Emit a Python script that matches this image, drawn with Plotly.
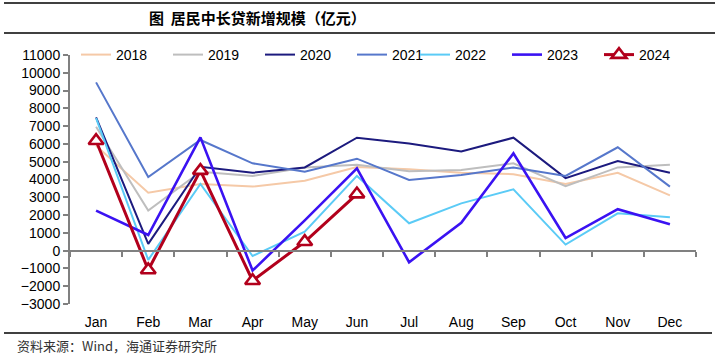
import plotly.graph_objects as go

months = ["Jan", "Feb", "Mar", "Apr", "May", "Jun", "Jul", "Aug", "Sep", "Oct", "Nov", "Dec"]

v2018 = [5900, 3260, 3750, 3600, 3930, 4700, 4570, 4380, 4300, 3750, 4380, 3110]
v2019 = [6970, 2250, 4440, 4200, 4680, 4830, 4460, 4530, 4910, 3630, 4680, 4830]
v2020 = [7490, 380, 4720, 4380, 4680, 6350, 6030, 5580, 6350, 4080, 5040, 4380]
v2021 = [9460, 4140, 6220, 4910, 4440, 5170, 3970, 4250, 4680, 4200, 5810, 3600]
v2022 = [7450, -520, 3750, -300, 1070, 4200, 1540, 2660, 3450, 340, 2100, 1880]
v2023 = [2250, 880, 6370, -1120, 1700, 4630, -650, 1570, 5470, 710, 2330, 1480]
v2024 = [6180, -1085, 4500, -1690, 500, 3180]

series = [
    ("2018", v2018, "#F5C9A7", 2, "legend"),
    ("2019", v2019, "#BEBEBE", 2, "legend"),
    ("2020", v2020, "#1C1A7E", 2, "legend"),
    ("2021", v2021, "#5677CB", 2, "legend"),
    ("2022", v2022, "#5BCBF6", 2, "legend2"),
    ("2023", v2023, "#3A12F2", 2.6, "legend2"),
]

W, H = 719, 360
L, R, T, B = 70, 696, 55, 304
YMIN, YMAX = -3000, 11000


def px(x):  # page x -> paper
    return (x - L) / (R - L)


def py(y):  # page y -> paper
    return (B - y) / (B - T)


fig = go.Figure()
for name, vals, color, width, leg in series:
    fig.add_trace(go.Scatter(
        x=months[:len(vals)], y=vals, name=name, mode="lines",
        line=dict(color=color, width=width), legend=leg,
    ))

fig.add_trace(go.Scatter(
    x=months[:len(v2024)], y=v2024, name="2024", mode="lines+markers",
    line=dict(color="#B2001C", width=3), legend="legend2",
    marker=dict(symbol="triangle-up", size=13, color="white",
                line=dict(color="#B2001C", width=2.6)),
))

# invisible trace carrying the bottom month-label axis
fig.add_trace(go.Scatter(
    x=months, y=[None] * len(months), xaxis="x2", showlegend=False,
    hoverinfo="skip", mode="lines",
))

zero_pos = (0 - YMIN) / (YMAX - YMIN)

legend_common = dict(
    orientation="h", y=1.0, xanchor="left", yanchor="middle",
    font=dict(size=14), bgcolor="rgba(0,0,0,0)",
    entrywidth=47, entrywidthmode="pixels", itemwidth=30,
    tracegroupgap=0,
)

fig.update_layout(
    width=W, height=H,
    margin=dict(l=L, r=W - R, t=T, b=H - B, pad=0, autoexpand=False),
    paper_bgcolor="white", plot_bgcolor="white",
    font=dict(family="Liberation Sans, Arial", size=14, color="black"),
    showlegend=True,
    legend=dict(x=px(76), **legend_common),
    legend2=dict(x=px(415), **legend_common),
    xaxis=dict(
        type="category", categoryorder="array", categoryarray=months,
        range=[-0.5, 11.5], anchor="free", position=zero_pos,
        showline=True, linecolor="#808080", linewidth=2,
        ticks="outside", ticklen=5, tickwidth=1.5, tickcolor="#808080",
        tickson="boundaries", showticklabels=False, showgrid=False,
        zeroline=False, fixedrange=True,
    ),
    xaxis2=dict(
        type="category", categoryorder="array", categoryarray=months,
        range=[-0.5, 11.5], overlaying="x", side="bottom", anchor="y",
        showline=False, ticks="outside", ticklen=5, tickcolor="rgba(0,0,0,0)",
        showgrid=False, zeroline=False, tickfont=dict(size=14),
    ),
    yaxis=dict(
        range=[YMIN, YMAX], dtick=1000, tick0=0, tickformat="d",
        showline=True, linecolor="#808080", linewidth=2,
        ticks="outside", ticklen=5, tickwidth=1.5, tickcolor="#808080",
        showgrid=False, zeroline=False, tickfont=dict(size=14),
    ),
)

# title and source
fig.add_annotation(
    text="<b>图  居民中长贷新增规模（亿元）</b>", xref="paper", yref="paper",
    x=px(257), y=py(17), xanchor="center", yanchor="middle", showarrow=False,
    font=dict(family="Noto Sans CJK SC", size=15, color="black"),
)
fig.add_annotation(
    text="资料来源：Wind，海通证券研究所", xref="paper", yref="paper",
    x=px(15), y=py(346), xanchor="left", yanchor="middle", showarrow=False,
    font=dict(family="Noto Sans CJK SC", size=13, color="#333333"),
)

for (x0, x1, yy) in [(4, 715, 3), (4, 715, 33), (4, 712, 333)]:
    fig.add_shape(type="line", xref="paper", yref="paper",
                  x0=px(x0), x1=px(x1), y0=py(yy), y1=py(yy),
                  line=dict(color="black", width=1.5))

fig.write_html(
    "out.html",
    config={"displayModeBar": False},
    post_script="document.body.style.margin='0';document.body.style.overflow='hidden';",
)
